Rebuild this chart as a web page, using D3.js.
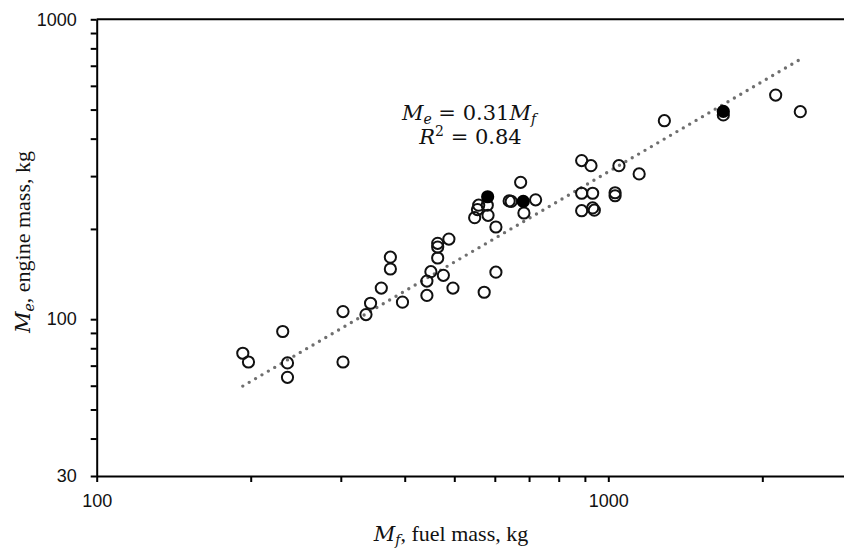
<!DOCTYPE html>
<html>
<head>
<meta charset="utf-8">
<script src="https://cdn.jsdelivr.net/npm/d3@7"></script>
<style>
  html, body { margin: 0; padding: 0; background: #fff; }
  svg { display: block; }
</style>
</head>
<body>
<svg id="chart" width="844" height="551"></svg>
<script>
// Fuel mass (kg) and engine mass (kg) for the open-circle engines
const fuelMass = [193, 198, 231, 236, 236, 303, 303, 336, 343, 360,
  375, 375, 396, 442, 442, 450, 464, 464, 464, 476,
  488, 497, 548, 555, 558, 580, 582, 572, 603, 603,
  640, 646, 674, 684, 721, 887, 925, 887, 932, 887,
  932, 939, 1031, 1031, 1049, 1149, 1287, 1678, 2124, 2373];
const engineMass = [77, 72, 91, 71.5, 64, 106, 72, 103.6, 113, 127,
  161, 147, 114, 134, 120, 144, 179, 174, 160, 140,
  185, 127, 218, 232, 240, 240, 222, 123, 203, 143.5,
  248, 247, 286, 226, 250, 338, 325, 263, 263, 230,
  235, 231, 264, 258, 325, 305, 459, 480, 559, 492];

// Highlighted engines (filled markers)
const fuelMassFilled = [581, 682, 1678];
const engineMassFilled = [256, 247, 493];

// Linear fit through the origin: Me = 0.31 Mf
const fitCoef = 0.31;
const fitR2 = 0.84;

// Axis ticks
const xTicks = [100, 200, 300, 400, 500, 600, 700, 800, 900, 1000, 2000, 3000];
const xLabels = [100, 1000];
const yTicks = [30, 40, 50, 60, 70, 80, 90, 100, 200, 300, 400, 500, 600, 700, 800, 900, 1000];
const yLabels = [30, 100, 1000];

const svg = d3.select("#chart");
const plotLeft = 96.7, plotRight = 852.4, plotTop = 19.3, plotBottom = 476;

const x = d3.scaleLog().domain([100, 3000]).range([plotLeft, plotRight]);
const y = d3.scaleLog().domain([30, 1000]).range([plotBottom, plotTop]);

// Top border
svg.append("line")
  .attr("x1", plotLeft).attr("x2", plotRight)
  .attr("y1", plotTop).attr("y2", plotTop)
  .attr("stroke", "#000").attr("stroke-width", 2);

const tickFont = "'Liberation Sans', Arial, sans-serif";

// X axis
const xAxis = svg.append("g")
  .attr("transform", `translate(0,${plotBottom})`)
  .call(d3.axisBottom(x).tickValues(xTicks).tickSize(6).tickSizeOuter(0)
    .tickPadding(12)
    .tickFormat(d => xLabels.includes(d) ? d : ""));
xAxis.select(".domain").attr("stroke", "#000").attr("stroke-width", 2);
xAxis.selectAll(".tick line").attr("stroke", "#000").attr("stroke-width", 2);
xAxis.selectAll(".tick text")
  .attr("font-family", tickFont).attr("font-size", 18).attr("fill", "#111");

// Y axis
const yAxis = svg.append("g")
  .attr("transform", `translate(${plotLeft},0)`)
  .call(d3.axisLeft(y).tickValues(yTicks).tickSize(6).tickSizeOuter(0)
    .tickPadding(14)
    .tickFormat(d => yLabels.includes(d) ? d : ""));
yAxis.select(".domain").attr("stroke", "#000").attr("stroke-width", 2);
yAxis.selectAll(".tick line").attr("stroke", "#000").attr("stroke-width", 2);
yAxis.selectAll(".tick text")
  .attr("font-family", tickFont).attr("font-size", 18).attr("fill", "#111");

// Dotted fit line over the range of the data
const allFuel = fuelMass.concat(fuelMassFilled);
const [fMin, fMax] = d3.extent(allFuel);
const fitLine = d3.line().x(d => x(d)).y(d => y(fitCoef * d));
svg.append("path")
  .datum([fMin, fMax])
  .attr("d", fitLine)
  .attr("fill", "none")
  .attr("stroke", "#6f6f6f")
  .attr("stroke-width", 3.4)
  .attr("stroke-linecap", "round")
  .attr("stroke-dasharray", "0 7.4");

// Open markers
const openPts = fuelMass.map((f, i) => [f, engineMass[i]]);
svg.append("g").selectAll("circle")
  .data(openPts).join("circle")
  .attr("cx", d => x(d[0])).attr("cy", d => y(d[1]))
  .attr("r", 5.6)
  .attr("fill", "none").attr("stroke", "#111").attr("stroke-width", 2);

// Filled markers
const filledPts = fuelMassFilled.map((f, i) => [f, engineMassFilled[i]]);
svg.append("g").selectAll("circle")
  .data(filledPts).join("circle")
  .attr("cx", d => x(d[0])).attr("cy", d => y(d[1]))
  .attr("r", 5.6)
  .attr("fill", "#000").attr("stroke", "#000").attr("stroke-width", 2);

// Fit equation
const mathFont = "'DejaVu Serif', 'Liberation Serif', serif";
const eq1 = svg.append("text")
  .attr("x", 469).attr("y", 119.5)
  .attr("text-anchor", "middle")
  .attr("font-family", mathFont).attr("font-size", 21).attr("fill", "#111");
eq1.append("tspan").attr("font-style", "italic").text("M");
eq1.append("tspan").attr("font-style", "italic").attr("font-size", 14).attr("dy", 4).text("e");
eq1.append("tspan").attr("dy", -4).text(" = " + fitCoef.toFixed(2));
eq1.append("tspan").attr("font-style", "italic").text("M");
eq1.append("tspan").attr("font-style", "italic").attr("font-size", 14).attr("dy", 4).text("f");

const eq2 = svg.append("text")
  .attr("x", 470.5).attr("y", 144)
  .attr("text-anchor", "middle")
  .attr("font-family", mathFont).attr("font-size", 21).attr("fill", "#111");
eq2.append("tspan").attr("font-style", "italic").text("R");
eq2.append("tspan").attr("font-size", 14).attr("dy", -8).text("2");
eq2.append("tspan").attr("dy", 8).text(" = " + fitR2.toFixed(2));

// Axis titles
const titleFont = "'Liberation Serif', 'Times New Roman', serif";
const xTitle = svg.append("text")
  .attr("x", 451).attr("y", 541)
  .attr("text-anchor", "middle")
  .attr("font-family", titleFont).attr("font-size", 22).attr("fill", "#111");
xTitle.append("tspan").attr("font-family", mathFont).attr("font-style", "italic").attr("font-size", 21).text("M");
xTitle.append("tspan").attr("font-family", mathFont).attr("font-style", "italic").attr("font-size", 14).attr("dy", 4).text("f");
xTitle.append("tspan").attr("dy", -4).text(", fuel mass, kg");

const yTitle = svg.append("text")
  .attr("transform", "translate(30,242) rotate(-90)")
  .attr("text-anchor", "middle")
  .attr("font-family", titleFont).attr("font-size", 22).attr("fill", "#111");
yTitle.append("tspan").attr("font-family", mathFont).attr("font-style", "italic").attr("font-size", 21).text("M");
yTitle.append("tspan").attr("font-family", mathFont).attr("font-style", "italic").attr("font-size", 14).attr("dy", 4).text("e");
yTitle.append("tspan").attr("dy", -4).text(", engine mass, kg");
</script>
</body>
</html>
